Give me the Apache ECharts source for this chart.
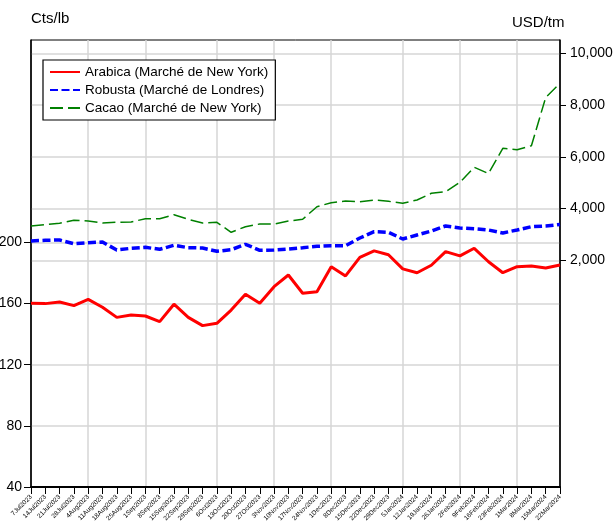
<!DOCTYPE html>
<html><head><meta charset="utf-8">
<script src="https://cdn.jsdelivr.net/npm/echarts@6/dist/echarts.min.js"></script>
<style>html,body{margin:0;padding:0;background:#fff}#c{width:614px;height:532px}</style>
</head><body><div id="c"></div><script>
const dates = ['7Jul2023','14Jul2023','21Jul2023','28Jul2023','4Aug2023','11Aug2023','18Aug2023','25Aug2023','1Sep2023','8Sep2023','15Sep2023','22Sep2023','29Sep2023','6Oct2023','13Oct2023','20Oct2023','27Oct2023','3Nov2023','10Nov2023','17Nov2023','24Nov2023','1Dec2023','8Dec2023','15Dec2023','22Dec2023','29Dec2023','5Jan2024','12Jan2024','19Jan2024','26Jan2024','2Feb2024','9Feb2024','16Feb2024','23Feb2024','1Mar2024','8Mar2024','15Mar2024','22Mar2024'];
const arabica = [160.2,160.0,161.1,158.7,162.8,157.6,151.0,152.6,151.9,148.2,159.6,151.0,145.6,147.1,155.8,166.1,160.2,171.1,178.7,166.8,167.8,184.2,178.1,190.3,194.5,192.0,182.7,180.2,185.1,194.0,191.2,196.2,187.4,180.2,184.2,184.6,183.3,185.3];
const robusta = [2747,2774,2785,2642,2681,2708,2398,2464,2503,2425,2580,2487,2476,2348,2410,2619,2387,2398,2437,2487,2542,2565,2565,2863,3106,3083,2824,2979,3133,3327,3249,3222,3172,3056,3172,3300,3327,3385];
const cacao = [3327,3377,3431,3547,3520,3443,3470,3481,3609,3609,3764,3586,3443,3470,3083,3300,3404,3404,3520,3586,4073,4228,4294,4267,4332,4282,4205,4332,4592,4653,5017,5597,5357,6332,6278,6433,8300,8846];
const leftTicks = [40,80,120,160,200];
const rightTicks = [2000,4000,6000,8000,10000];
const monthStarts = ['4Aug2023','1Sep2023','6Oct2023','3Nov2023','1Dec2023','5Jan2024','2Feb2024','1Mar2024'];
const seriesNames = ['Arabica (Marché de New York)','Robusta (Marché de Londres)','Cacao (Marché de New York)'];

const FONT = "'Liberation Sans', Arial, sans-serif";
const GRID = '#d6d6d6';
const chart = echarts.init(document.getElementById('c'), null, {renderer:'canvas'});
chart.setOption({
  animation: false,
  backgroundColor: '#fff',
  textStyle: {fontFamily: FONT},
  grid: {left: 31, right: 54, top: 40, bottom: 45, outerBoundsMode: 'none', containLabel: false,
         show: true, borderColor: '#000', borderWidth: 1, backgroundColor: 'transparent'},
  graphic: [
    {type:'text', left: 31, top: 11, style:{text:'Cts/lb', font: "15px " + FONT, fill:'#000'}},
    {type:'text', left: 512, top: 15, style:{text:'USD/tm', font: "15px " + FONT, fill:'#000'}}
  ],
  legend: {
    orient: 'vertical', left: 43, top: 60,
    padding: [5, 7, 5, 6],
    borderColor: '#000', borderWidth: 1.2,
    backgroundColor: '#fff',
    itemWidth: 30, itemHeight: 14, itemGap: 4,
    itemStyle: {opacity: 0},
    textStyle: {fontFamily: FONT, fontSize: 13.5, color: '#000'},
    data: seriesNames
  },
  xAxis: {
    type: 'category', data: dates, boundaryGap: false,
    axisLine: {onZero: false, lineStyle: {color: '#000', width: 2}},
    axisTick: {show: true, inside: false, length: 7, interval: 0, lineStyle: {color: '#000', width: 1}},
    axisLabel: {interval: 0, rotate: 45, fontSize: 6.5, color: '#000', fontFamily: FONT, margin: 9},
    splitLine: {show: true, interval: (i, v) => monthStarts.includes(v), lineStyle: {color: GRID, width: 1.5}}
  },
  yAxis: [
    {
      type: 'value', position: 'left', min: 40, max: 332.5,
      axisLine: {show: true, lineStyle: {color: '#000', width: 1.5}},
      axisTick: {show: true, length: 7, customValues: leftTicks, lineStyle: {color: '#000'}},
      axisLabel: {customValues: leftTicks, fontSize: 14, color: '#000', fontFamily: FONT, margin: 9},
      splitLine: {show: true, lineStyle: {color: GRID, width: 1.5}}
    },
    {
      type: 'value', position: 'right', min: -6770, max: 10522,
      axisLine: {show: true, lineStyle: {color: '#000', width: 1.5}},
      axisTick: {show: true, length: 6, customValues: rightTicks, lineStyle: {color: '#000'}},
      axisLabel: {customValues: rightTicks, fontSize: 14, color: '#000', fontFamily: FONT, margin: 10,
        formatter: v => v.toLocaleString('en-US')},
      splitLine: {show: true, lineStyle: {color: GRID, width: 1.5}}
    }
  ],
  series: [
    {name: seriesNames[0], type: 'line', yAxisIndex: 0, data: arabica, symbol: 'none', showSymbol: false,
     color: '#ff0000', lineStyle: {color: '#ff0000', width: 3}, z: 4},
    {name: seriesNames[1], type: 'line', yAxisIndex: 1, data: robusta, symbol: 'none', showSymbol: false,
     color: '#0000ff', lineStyle: {color: '#0000ff', width: 3.5, type: [8, 3.5]}, z: 3},
    {name: seriesNames[2], type: 'line', yAxisIndex: 1, data: cacao, symbol: 'none', showSymbol: false,
     color: '#008000', lineStyle: {color: '#008000', width: 1.5, type: [13, 5]}, z: 2}
  ]
});
</script></body></html>
